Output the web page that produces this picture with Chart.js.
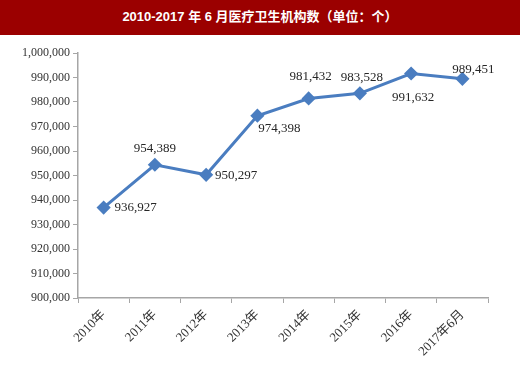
<!DOCTYPE html>
<html lang="zh">
<head>
  <meta charset="UTF-8" />
  <title>2010-2017年6月医疗卫生机构数</title>
  <script src="https://cdn.jsdelivr.net/npm/chart.js"></script>
  <style>
    body {
      margin: 0;
      background: #ffffff;
      width: 520px;
      height: 370px;
      overflow: hidden;
    }
    .title-bar {
      height: 35px;
      line-height: 34px;
      background: #9b0000;
      color: #ffffff;
      text-align: center;
      font-family: 'Liberation Sans', 'Noto Sans CJK SC', sans-serif;
      font-weight: bold;
      font-size: 13px;
    }
    #wrap {
      position: relative;
      width: 520px;
      height: 335px;
    }
  </style>
</head>
<body>

<div class="title-bar">2010-2017 年 6 月医疗卫生机构数（单位：个）</div>
<div id="wrap"><canvas id="chart"></canvas></div>

<script>
  const categories = ['2010年', '2011年', '2012年', '2013年', '2014年', '2015年', '2016年', '2017年6月'];
  const institutions = [936927, 954389, 950297, 974398, 981432, 983528, 991632, 989451];
  const yMin = 900000;
  const yMax = 1000000;
  const yStep = 10000;

  // where each value label sits relative to its marker (dx, dy in px)
  const labelOffsets = [[32, 0], [0, -16], [30, 1], [22, 13], [2, -22], [2, -16], [2, 24], [11, -9]];

  const fmt = v => v.toLocaleString('en-US');
  const serif = "'Liberation Serif', 'Noto Sans CJK SC', serif";

  const valueLabels = {
    id: 'valueLabels',
    afterDatasetsDraw(chart) {
      const ctx = chart.ctx;
      const meta = chart.getDatasetMeta(0);
      ctx.save();
      ctx.font = '13px ' + serif;
      ctx.fillStyle = '#262626';
      ctx.textAlign = 'center';
      ctx.textBaseline = 'middle';
      meta.data.forEach((pt, i) => {
        const [dx, dy] = labelOffsets[i];
        ctx.fillText(fmt(institutions[i]), pt.x + dx, pt.y + dy);
      });
      ctx.restore();
    }
  };

  new Chart(document.getElementById('chart'), {
    type: 'line',
    data: {
      labels: categories,
      datasets: [{
        data: institutions,
        borderColor: '#4a7dc0',
        backgroundColor: '#4a7dc0',
        borderWidth: 3,
        pointStyle: 'rectRot',
        pointRadius: 5,
        pointHoverRadius: 5,
        tension: 0,
        fill: false
      }]
    },
    options: {
      responsive: true,
      maintainAspectRatio: false,
      animation: false,
      layout: { padding: { top: 18, right: 32, left: 0, bottom: 0 } },
      plugins: {
        legend: { display: false },
        tooltip: { enabled: false }
      },
      scales: {
        x: {
          offset: true,
          grid: { offset: true, drawOnChartArea: false, drawTicks: true, tickLength: 5, color: '#a6a6a6' },
          border: { color: '#a6a6a6', width: 1.5 },
          ticks: {
            color: '#333333',
            font: { family: serif, size: 13 },
            maxRotation: 45,
            minRotation: 45,
            padding: 4
          },
          afterFit: s => { s.height = 72; }
        },
        y: {
          min: yMin,
          max: yMax,
          grid: { drawOnChartArea: false, drawTicks: true, tickLength: 5, color: '#a6a6a6' },
          border: { color: '#a6a6a6', width: 1.5 },
          ticks: {
            stepSize: yStep,
            color: '#333333',
            font: { family: serif, size: 12 },
            padding: 3,
            callback: v => fmt(v)
          },
          afterFit: s => { s.width = 78; }
        }
      }
    },
    plugins: [valueLabels]
  });
</script>

</body>
</html>
